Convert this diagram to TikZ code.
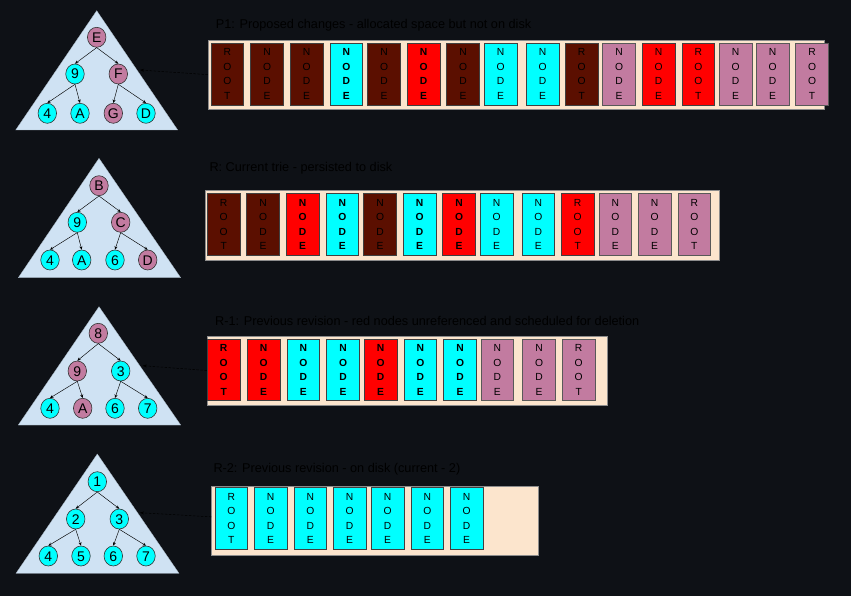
\documentclass[tikz,border=0pt]{standalone}
\usepackage{fontspec}
\setmainfont{Liberation Sans}
\usetikzlibrary{shapes.geometric,arrows.meta}
\definecolor{bgc}{HTML}{0E1116}
\definecolor{brn}{HTML}{5B0F00}
\definecolor{cyn}{HTML}{00FFFF}
\definecolor{rdd}{HTML}{FF0000}
\definecolor{mve}{HTML}{C27BA0}
\definecolor{contc}{HTML}{FCE5CD}
\definecolor{tric}{HTML}{CFE2F3}
\newcommand{\txtR}{R\\O\\O\\T}
\newcommand{\txtN}{N\\O\\D\\E}
\tikzset{
  blk/.style={draw=black!75, line width=0.7pt, minimum width=32.7pt, minimum height=61.5pt,
    inner sep=0pt, align=center, font=\fontsize{10.3}{14.5}\selectfont, text=black},
  bfnt/.style={font=\fontsize{10.3}{14.5}\selectfont\bfseries},
  bb/.style={blk, fill=brn},
  cc/.style={blk, fill=cyn},
  ccb/.style={cc, bfnt},
  rr/.style={blk, fill=rdd},
  rrb/.style={rr, bfnt},
  mm/.style={blk, fill=mve, draw=black!65},
  contbox/.style={draw=black!45, line width=0.8pt, fill=contc, inner sep=0pt},
  tn/.style={ellipse, draw=black!80, line width=0.6pt, minimum width=18.5pt, minimum height=20pt,
    inner sep=0pt, font=\fontsize{14}{14}\selectfont, text=black, text height=10pt, text depth=0pt},
  tcy/.style={tn, fill=cyn},
  tmv/.style={tn, fill=mve},
  edg/.style={-{Stealth[length=3.5pt,width=3pt]}, line width=0.45pt, draw=black},
  dsh/.style={-{Stealth[length=4pt,width=3pt]}, line width=0.5pt, dash pattern=on 2.5pt off 1.5pt, draw=black},
  ttl/.style={anchor=west, font=\fontsize{12.7}{13}\selectfont, text=black, inner sep=0pt},
  trif/.style={fill=tric, draw=tric!80!black, line width=0.3pt}
}
\begin{document}
\begin{tikzpicture}[x=1pt,y=-1pt]
\fill[bgc] (0,0) rectangle (851,596);
\useasboundingbox (0,0) rectangle (851,596);

% ---------- Row 1 ----------
\node[ttl] (ttl1) at (215.7,25) {P1: Proposed changes - allocated space but not on disk};
\node[contbox, minimum width=616pt, minimum height=69.3pt] (c1) at (516.3,74.65) {};
\foreach \x/\s/\t [count=\i] in {211/bb/\txtR, 250.7/bb/\txtN, 290.3/bb/\txtN, 330/ccb/\txtN,
  367.7/bb/\txtN, 407.3/rrb/\txtN, 446.7/bb/\txtN, 484.3/cc/\txtN, 526.3/cc/\txtN, 565.3/bb/\txtR,
  602.7/mm/\txtN, 642.3/rr/\txtN, 682/rr/\txtR, 719.3/mm/\txtN, 756.3/mm/\txtN, 795.7/mm/\txtR}
  \node[\s] (ra\i) at (\x+16.35,74.2) {\t};

\fill[trif] (96.7,10.7) -- (15.7,130) -- (177.7,130) -- cycle;
\node[tmv] (aE) at (96.7,37.3) {E};
\node[tcy] (a9) at (75,74) {9};
\node[tmv] (aF) at (118.3,74) {F};
\node[tcy] (a4) at (47.3,113.3) {4};
\node[tcy] (aA) at (80,113.3) {A};
\node[tmv] (aG) at (113.3,113.3) {G};
\node[tcy] (aD) at (146,113.3) {D};
\draw[edg] (aE.south) -- (a9.north);
\draw[edg] (aE.south) -- (aF.north);
\draw[edg] (a9.south) -- (a4.north);
\draw[edg] (a9.south) -- (aA.north);
\draw[edg] (aF.south) -- (aG.north);
\draw[edg] (aF.south) -- (aD.north);
\coordinate (ta) at (140,70);
\draw[dsh] (c1.west) -- (ta);

% ---------- Row 2 ----------
\node[ttl] (ttl2) at (209.3,168.3) {R: Current trie - persisted to disk};
\node[contbox, minimum width=514pt, minimum height=70pt] (c2) at (462,225) {};
\foreach \x/\s/\t [count=\i] in {207.3/bb/\txtR, 246.7/bb/\txtN, 286.3/rrb/\txtN, 326/ccb/\txtN,
  363.7/bb/\txtN, 403.3/ccb/\txtN, 442.7/rrb/\txtN, 480.3/cc/\txtN, 522/cc/\txtN, 561.3/rr/\txtR,
  599/mm/\txtN, 638.3/mm/\txtN, 678/mm/\txtR}
  \node[\s] (rb\i) at (\x+16.35,224.5) {\t};

\fill[trif] (99,158.3) -- (18.3,277.7) -- (180.7,277.7) -- cycle;
\node[tmv] (bB) at (99,185.7) {B};
\node[tcy] (b9) at (77.3,222.3) {9};
\node[tmv] (bC) at (120.7,222.3) {C};
\node[tcy] (b4) at (50,260) {4};
\node[tcy] (bA) at (81.7,260) {A};
\node[tcy] (b6) at (115,260) {6};
\node[tmv] (bD) at (147.7,260) {D};
\draw[edg] (bB.south) -- (b9.north);
\draw[edg] (bB.south) -- (bC.north);
\draw[edg] (b9.south) -- (b4.north);
\draw[edg] (b9.south) -- (bA.north);
\draw[edg] (bC.south) -- (b6.north);
\draw[edg] (bC.south) -- (bD.north);

% ---------- Row 3 ----------
\node[ttl] (ttl3) at (215,320.7) {R-1: Previous revision - red nodes unreferenced and scheduled for deletion};
\node[contbox, minimum width=400pt, minimum height=69pt] (c3) at (407.3,370.5) {};
\foreach \x/\s/\t [count=\i] in {207.3/rrb/\txtR, 247.3/rrb/\txtN, 287/ccb/\txtN, 326.7/ccb/\txtN,
  364.3/rrb/\txtN, 404/ccb/\txtN, 443.7/ccb/\txtN, 481/mm/\txtN, 522.7/mm/\txtN, 562.3/mm/\txtR}
  \node[\s] (rc\i) at (\x+16.35,369.8) {\t};

\fill[trif] (99,306.7) -- (18.3,425) -- (180.7,425) -- cycle;
\node[tmv] (c8) at (98.3,333.3) {8};
\node[tmv] (c9) at (77.3,371) {9};
\node[tcy] (cc3) at (120.7,371) {3};
\node[tcy] (cc4) at (50,408.3) {4};
\node[tmv] (cA) at (82.7,408.3) {A};
\node[tcy] (cc6) at (115,408.3) {6};
\node[tcy] (cc7) at (147.7,408.3) {7};
\draw[edg] (c8.south) -- (c9.north);
\draw[edg] (c8.south) -- (cc3.north);
\draw[edg] (c9.south) -- (cc4.north);
\draw[edg] (c9.south) -- (cA.north);
\draw[edg] (cc3.south) -- (cc6.north);
\draw[edg] (cc3.south) -- (cc7.north);
\coordinate (tc) at (142.7,365.7);
\draw[dsh] (c3.west) -- (tc);

% ---------- Row 4 ----------
\node[ttl] (ttl4) at (213.3,469) {R-2: Previous revision - on disk (current - 2)};
\node[contbox, minimum width=326.6pt, minimum height=69.7pt] (c4) at (375,520.85) {};
\foreach \x/\s/\t [count=\i] in {215/cc/\txtR, 254.3/cc/\txtN, 294/cc/\txtN, 333.3/cc/\txtN,
  371.3/cc/\txtN, 411/cc/\txtN, 450.3/cc/\txtN}
  \node[\s] (rd\i) at (\x+16.35,518.3) {\t};

\fill[trif] (97.3,454) -- (16,573.3) -- (179,573.3) -- cycle;
\node[tcy] (d1) at (97.3,481.7) {1};
\node[tcy] (d2) at (75.7,519) {2};
\node[tcy] (d3) at (119.3,519) {3};
\node[tcy] (d4) at (48.3,556) {4};
\node[tcy] (d5) at (81,556) {5};
\node[tcy] (d6) at (113.3,556) {6};
\node[tcy] (d7) at (146,556) {7};
\draw[edg] (d1.south) -- (d2.north);
\draw[edg] (d1.south) -- (d3.north);
\draw[edg] (d2.south) -- (d4.north);
\draw[edg] (d2.south) -- (d5.north);
\draw[edg] (d3.south) -- (d6.north);
\draw[edg] (d3.south) -- (d7.north);
\coordinate (td) at (140,512.7);
\draw[dsh] ([yshift=4pt]c4.west) -- (td);
\end{tikzpicture}
\end{document}
